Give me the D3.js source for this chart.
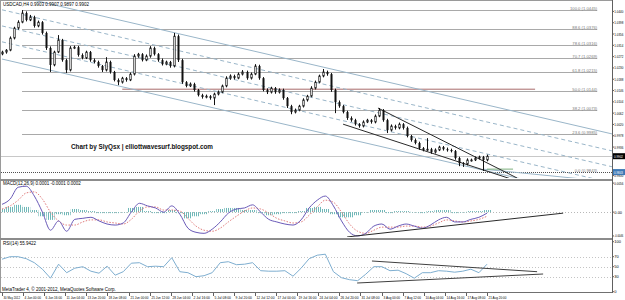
<!DOCTYPE html>
<html lang="en">
<head>
<meta charset="UTF-8">
<title>USDCAD H4</title>
<script src="https://d3js.org/d3.v7.min.js"></script>
<style>
  body { margin: 0; background: #fff; }
  svg { display: block; font-family: "Liberation Sans", Arial, sans-serif; }
</style>
</head>
<body>
<script>
// price candles (each drawn candle stands for ~3 H4 bars), open = previous close
const firstOpen = 1.0282;
const closes = [
  1.0289, 1.0296, 1.0341, 1.0378, 1.0400, 1.0434, 1.0408, 1.0419, 1.0386, 1.0400,
  1.0360, 1.0304, 1.0241, 1.0289, 1.0334, 1.0259, 1.0222, 1.0304, 1.0307, 1.0278,
  1.0267, 1.0289, 1.0259, 1.0252, 1.0237, 1.0222, 1.0252, 1.0215, 1.0185, 1.0177,
  1.0192, 1.0185, 1.0207, 1.0274, 1.0281, 1.0259, 1.0274, 1.0304, 1.0281, 1.0259,
  1.0244, 1.0252, 1.0237, 1.0348, 1.0259, 1.0177, 1.0163, 1.0170, 1.0148, 1.0129,
  1.0122, 1.0125, 1.0118, 1.0133, 1.0140, 1.0163, 1.0192, 1.0200, 1.0192, 1.0207,
  1.0215, 1.0192, 1.0207, 1.0237, 1.0192, 1.0148, 1.0140, 1.0155, 1.0140, 1.0148,
  1.0118, 1.0088, 1.0066, 1.0073, 1.0088, 1.0111, 1.0125, 1.0155, 1.0177, 1.0200,
  1.0215, 1.0207, 1.0148, 1.0103, 1.0088, 1.0066, 1.0044, 1.0036, 1.0021, 1.0014,
  1.0029, 1.0036, 1.0029, 1.0051, 1.0073, 1.0036, 0.9999, 1.0014, 1.0007, 1.0021,
  1.0007, 0.9977, 0.9962, 0.9951, 0.9932, 0.9925, 0.9928, 0.9917, 0.9925, 0.9936,
  0.9928, 0.9925, 0.9921, 0.9895, 0.9876, 0.9873, 0.9888, 0.9888, 0.9895, 0.9899,
  0.9888, 0.9902
];
// wicks in pips above / below the body
const wickUp = [
  5, 4, 6, 5, 7, 11, 6, 8, 5, 6,  4, 5, 6, 5, 18, 4, 5, 7, 6, 5,
  6, 5, 4, 6, 5, 4, 18, 5, 4, 6,  5, 4, 6, 7, 5, 4, 6, 7, 5, 4,
  6, 5, 4, 12, 6, 5, 4, 6, 5, 4,  5, 6, 4, 5, 6, 5, 7, 6, 5, 6,
  7, 5, 6, 7, 5, 4, 6, 5, 4, 6,   5, 4, 5, 6, 5, 6, 5, 7, 6, 5,
  11, 5, 4, 5, 6, 4, 5, 6, 5, 4,  6, 5, 4, 6, 8, 4, 5, 6, 5, 6,
  4, 5, 4, 6, 5, 4, 41, 5, 6, 5,  4, 6, 5, 4, 5, 4, 6, 5, 6, 5,
  4, 6
];
const wickDn = [
  5, 6, 4, 5, 6, 4, 5, 4, 6, 5,   6, 7, 26, 5, 4, 6, 11, 5, 4, 6,
  5, 4, 6, 5, 6, 7, 5, 6, 5, 11,  5, 6, 4, 5, 6, 5, 4, 6, 5, 6,
  5, 4, 6, 5, 7, 6, 5, 4, 6, 5,   6, 5, 6, 26, 5, 4, 5, 6, 5, 4,
  5, 6, 5, 4, 6, 5, 7, 5, 6, 5,   6, 7, 8, 5, 4, 5, 6, 4, 5, 4,
  5, 6, 7, 41, 6, 5, 7, 6, 5, 6,  5, 4, 6, 5, 4, 6, 11, 5, 6, 5,
  6, 5, 6, 5, 6, 5, 4, 6, 5, 4,   5, 6, 5, 6, 11, 11, 5, 6, 4, 5,
  41, 5
];

// indicators, sampled every second candle
const macdMain = [
  0.0015, 0.0025, 0.0048, 0.0050, 0.0031, 0.0000, -0.0035, -0.0017, -0.0037, -0.0014,
  -0.0012, -0.0010, -0.0017, -0.0023, -0.0025, -0.0021, 0.0000, 0.0017, 0.0012, 0.0008,
  0.0000, 0.0012, -0.0004, -0.0031, -0.0039, -0.0041, -0.0033, -0.0019, -0.0002, 0.0006,
  0.0008, 0.0014, 0.0000, -0.0014, -0.0019, -0.0023, -0.0025, -0.0015, 0.0008, 0.0023,
  0.0031, 0.0012, -0.0017, -0.0039, -0.0046, -0.0041, -0.0027, -0.0023, -0.0033, -0.0027,
  -0.0023, -0.0027, -0.0031, -0.0025, -0.0015, -0.0010, -0.0019, -0.0019, -0.0014, -0.0010,
  -0.0002
];
const macdSignal = [
  0.0006, 0.0012, 0.0023, 0.0037, 0.0039, 0.0025, 0.0000, -0.0017, -0.0025, -0.0025,
  -0.0019, -0.0015, -0.0015, -0.0019, -0.0021, -0.0023, -0.0014, 0.0002, 0.0010, 0.0010,
  0.0004, 0.0004, 0.0002, -0.0012, -0.0027, -0.0035, -0.0037, -0.0031, -0.0019, -0.0008,
  0.0002, 0.0008, 0.0006, -0.0002, -0.0012, -0.0017, -0.0021, -0.0019, -0.0006, 0.0010,
  0.0023, 0.0019, 0.0000, -0.0023, -0.0037, -0.0041, -0.0035, -0.0029, -0.0029, -0.0029,
  -0.0027, -0.0027, -0.0029, -0.0027, -0.0021, -0.0015, -0.0017, -0.0019, -0.0017, -0.0014,
  -0.0008
];
const macdHist = [
  0.0006, 0.0010, 0.0014, 0.0010, 0.0004, -0.0008, -0.0015, -0.0004, -0.0006, 0.0006,
  0.0004, 0.0002, -0.0002, -0.0002, -0.0002, 0.0000, 0.0008, 0.0010, 0.0002, -0.0002,
  -0.0002, 0.0004, -0.0002, -0.0012, -0.0008, -0.0004, 0.0002, 0.0006, 0.0008, 0.0008,
  0.0004, 0.0004, -0.0002, -0.0006, -0.0004, -0.0002, -0.0002, 0.0002, 0.0008, 0.0010,
  0.0006, -0.0004, -0.0010, -0.0010, -0.0006, 0.0000, 0.0004, 0.0004, -0.0002, 0.0002,
  0.0002, 0.0000, -0.0002, 0.0002, 0.0004, 0.0004, -0.0002, 0.0000, 0.0002, 0.0002,
  0.0004
];
const rsi = [
  65, 70, 70, 66, 58, 45, 27, 55, 38, 47,
  50, 41, 37, 51, 33, 40, 57, 58, 50, 51,
  50, 68, 40, 38, 30, 32, 38, 58, 60, 54,
  55, 58, 42, 41, 41, 42, 31, 47, 66, 73,
  75, 40, 28, 24, 22, 35, 50, 50, 42, 43,
  36, 27, 38, 38, 42, 41, 39, 41, 45, 38,
  55
];

// time axis: one label every 16 H4 bars
const h4Bars = 368;
const dateLabels = [
  "30 May 2012", "4 Jun 00:00", "6 Jun 16:00", "11 Jun 04:00", "13 Jun 20:00", "18 Jun 08:00",
  "21 Jun 00:00", "25 Jun 12:00", "28 Jun 04:00", "2 Jul 16:00", "5 Jul 08:00", "9 Jul 20:00",
  "12 Jul 12:00", "17 Jul 00:00", "19 Jul 16:00", "24 Jul 04:00", "26 Jul 20:00", "31 Jul 08:00",
  "3 Aug 00:00", "7 Aug 12:00", "10 Aug 04:00", "14 Aug 16:00", "17 Aug 08:00", "21 Aug 20:00"
];
const priceTicks = [1.0440, 1.0398, 1.0356, 1.0314, 1.0272, 1.0230, 1.0188, 1.0146, 1.0104,
  1.0062, 1.0020, 0.9978, 0.9936, 0.9830];
const macdTicks = [0.0056, 0, -0.0046];
const rsiTicks = [100, 70, 50, 30, 0];
const rsiLevels = [70, 50, 30];

// fibonacci retracement
const fibHigh = 1.0445, fibLow = 0.9843;
const fibLevels = [0, 23.6, 38.2, 50.0, 61.8, 70.7, 78.6, 88.6, 100.0];
const fibFrom = 5, fibTo = 148.5;

// drawn objects: [fromIdx, fromValue, toIdx, toValue]
const channel = [
  [0, 1.0509, 153, 0.9982],
  [0, 1.0446, 153, 0.9919],
  [0, 1.0386, 153, 0.9860],
  [0, 1.0327, 153, 0.9800],
  [0, 1.0263, 153, 0.9737]
];
const channelDash = [null, "4,3", "4,3", "4,3", null];
const wedge = [
  [93.8, 1.0081, 128.5, 0.9821],
  [85.1, 1.0021, 128.5, 0.9810]
];
const lowerRay = [120, 0.9854, 145, 0.9817];
const greenLine = [121, 0.9854, 127.5, 0.9854];
const redLine = [30, 1.0151, 133, 1.0151];
const bid = 0.9902;
const macdTrend = [86.1, -0.0048, 140, -0.0002];
const rsiTrends = [
  [92.3, 61.4, 133.5, 40],
  [88.6, 17.4, 135, 35.4]
];

const w = 625, h = 300;
const svg = d3.select("body").append("svg").attr("width", w).attr("height", h);
svg.append("rect").attr("width", w).attr("height", h).attr("fill", "#fff");

const x = d3.scaleLinear().domain([0, closes.length - 1]).range([2, 487]);
const xInd = d3.scaleLinear().domain([0, rsi.length - 1]).range([x(0), x(closes.length - 1)]);
const y = d3.scaleLinear().domain([0.9821, 1.0475]).range([178, 2]);
const yMacd = d3.scaleLinear().domain([-0.005, 0.0062]).range([238, 180]);
const yRsi = d3.scaleLinear().domain([0, 100]).range([291.7, 241.7]);
const candlePerH4 = (closes.length - 1) / h4Bars;

const defs = svg.append("defs");
defs.append("clipPath").attr("id", "cMain").append("rect").attr("x", 1).attr("y", 1).attr("width", 611).attr("height", 177);
defs.append("clipPath").attr("id", "cMacd").append("rect").attr("x", 1).attr("y", 181).attr("width", 611).attr("height", 56);
defs.append("clipPath").attr("id", "cRsi").append("rect").attr("x", 1).attr("y", 240).attr("width", 611).attr("height", 52);

const main = svg.append("g").attr("clip-path", "url(#cMain)");

// fib lines
fibLevels.forEach(l => {
  const p = fibLow + (fibHigh - fibLow) * l / 100;
  const yy = Math.round(y(p)) + 0.5;
  if (l === 0) {
    main.append("line").attr("x1", 1).attr("x2", 612).attr("y1", yy).attr("y2", yy)
      .attr("stroke", "#505050").attr("stroke-dasharray", "1,1");
  } else {
    main.append("line").attr("x1", x(fibFrom)).attr("x2", x(fibTo)).attr("y1", yy).attr("y2", yy)
      .attr("stroke", "#a9a9a9");
  }
  main.append("text").attr("x", x(fibTo)).attr("y", yy - 1).attr("text-anchor", "end")
    .attr("font-size", 4.2).attr("fill", "#7a7a7a")
    .text(l.toFixed(1) + " (" + p.toFixed(4) + ")");
});

// bid line
main.append("line").attr("x1", 1).attr("x2", 612).attr("y1", Math.round(y(bid)) + 0.5).attr("y2", Math.round(y(bid)) + 0.5)
  .attr("stroke", "#c8c8c8");

function seg(g, s, sy, color, dash) {
  return g.append("line")
    .attr("x1", x(s[0])).attr("y1", sy(s[1])).attr("x2", x(s[2])).attr("y2", sy(s[3]))
    .attr("stroke", color).attr("stroke-width", 1).attr("stroke-dasharray", dash || null);
}

seg(main, redLine, y, "#a86a6a");
channel.forEach((c, i) => seg(main, c, y, "#9ab6c9", channelDash[i]));
seg(main, lowerRay, y, "#9ab6c9");
seg(main, greenLine, y, "#7cb07c");
wedge.forEach(s => seg(main, s, y, "#2a2a2a"));

// candles
const bars = closes.map((c, i) => {
  const o = i === 0 ? firstOpen : closes[i - 1];
  return { i, o, c, hi: Math.max(o, c) + wickUp[i] / 10000, lo: Math.min(o, c) - wickDn[i] / 10000 };
});
const cg = main.append("g");
bars.forEach(b => {
  const xi = Math.round(x(b.i));
  cg.append("line").attr("x1", xi + 0.5).attr("x2", xi + 0.5)
    .attr("y1", y(b.hi)).attr("y2", y(b.lo)).attr("stroke", "#111");
  const top = y(Math.max(b.o, b.c)), bot = y(Math.min(b.o, b.c));
  if (b.c >= b.o) {
    cg.append("rect").attr("x", xi - 0.25).attr("y", top).attr("width", 1.5).attr("height", Math.max(1, bot - top))
      .attr("fill", "#fff").attr("stroke", "#111").attr("stroke-width", 0.7);
  } else {
    cg.append("rect").attr("x", xi - 0.5).attr("y", top).attr("width", 2).attr("height", Math.max(1, bot - top))
      .attr("fill", "#111");
  }
});

svg.append("text").attr("x", 3).attr("y", 6).attr("font-size", 4.5).attr("fill", "#000")
  .text("USDCAD,H4  0.9903 0.9907 0.9897 0.9902");
svg.append("text").attr("x", 71).attr("y", 148.5).attr("font-size", 8).attr("font-weight", "bold")
  .attr("textLength", 142).attr("lengthAdjust", "spacingAndGlyphs").attr("fill", "#111")
  .text("Chart by SlyQsx | elliottwavesurf.blogspot.com");

// MACD panel
const mg = svg.append("g").attr("clip-path", "url(#cMacd)");
defs.append("pattern").attr("id", "hatch").attr("patternUnits", "userSpaceOnUse")
  .attr("width", 2).attr("height", 4)
  .append("rect").attr("width", 1).attr("height", 4).attr("fill", "#6fb8b8");
mg.append("line").attr("x1", 1).attr("x2", 612).attr("y1", Math.round(yMacd(0)) + 0.5).attr("y2", Math.round(yMacd(0)) + 0.5)
  .attr("stroke", "#b8b8b8").attr("stroke-dasharray", "1,2");
macdHist.forEach((v, k) => {
  const y0 = yMacd(0), y1 = yMacd(v);
  mg.append("rect").attr("x", xInd(k) - 4).attr("width", 8)
    .attr("y", Math.min(y0, y1)).attr("height", Math.max(0.5, Math.abs(y1 - y0)))
    .attr("fill", "url(#hatch)");
});
mg.append("path").datum(macdSignal)
  .attr("d", d3.line().x((d, k) => xInd(k)).y(d => yMacd(d)).curve(d3.curveMonotoneX))
  .attr("fill", "none").attr("stroke", "#e07a7a").attr("stroke-width", 1).attr("stroke-dasharray", "1.5,1.5");
mg.append("path").datum(macdMain)
  .attr("d", d3.line().x((d, k) => xInd(k)).y(d => yMacd(d)).curve(d3.curveMonotoneX))
  .attr("fill", "none").attr("stroke", "#6a5ab8").attr("stroke-width", 1);
seg(mg, macdTrend, yMacd, "#2a2a2a");
svg.append("text").attr("x", 3).attr("y", 185).attr("font-size", 4.5).attr("fill", "#000")
  .text("MACD(12,26,9) 0.0001 -0.0001 0.0002");

// RSI panel
const rg = svg.append("g").attr("clip-path", "url(#cRsi)");
rsiLevels.forEach(l => {
  const yy = Math.round(yRsi(l)) + 0.5;
  rg.append("line").attr("x1", 1).attr("x2", 612).attr("y1", yy).attr("y2", yy)
    .attr("stroke", "#c4c4c4").attr("stroke-dasharray", "1,2");
});
rg.append("path").datum(rsi)
  .attr("d", d3.line().x((d, k) => xInd(k)).y(d => yRsi(d)))
  .attr("fill", "none").attr("stroke", "#7eaed0").attr("stroke-width", 1);
rsiTrends.forEach(s => seg(rg, s, yRsi, "#404040"));
svg.append("text").attr("x", 3).attr("y", 245).attr("font-size", 4.5).attr("fill", "#000")
  .text("RSI(14) 55.9422");
svg.append("text").attr("x", 2).attr("y", 291).attr("font-size", 4.5).attr("fill", "#000")
  .text("MetaTrader 4, \u00a9 2001-2012, MetaQuotes Software Corp.");

// frame and separators
svg.append("line").attr("x1", 0).attr("x2", 612).attr("y1", 0.5).attr("y2", 0.5).attr("stroke", "#9a9a9a");
svg.append("line").attr("x1", 0.5).attr("x2", 0.5).attr("y1", 0).attr("y2", 293).attr("stroke", "#9a9a9a");
[179, 238].forEach(s => svg.append("rect").attr("x", 0).attr("y", s).attr("width", 613).attr("height", 2).attr("fill", "#8c8c8c"));
svg.append("line").attr("x1", 0).attr("x2", 613).attr("y1", 292.5).attr("y2", 292.5).attr("stroke", "#707070");
svg.append("line").attr("x1", 612.5).attr("x2", 612.5).attr("y1", 0).attr("y2", 293).attr("stroke", "#606060");

// right axis labels (narrow font, the strip is only 12px wide)
function rightTick(yy, label) {
  svg.append("line").attr("x1", 612).attr("x2", 614).attr("y1", yy).attr("y2", yy).attr("stroke", "#606060");
  svg.append("text").attr("x", 614.3).attr("y", yy + 1.5).attr("font-size", 4)
    .attr("textLength", label.length > 4 ? 9 : null).attr("lengthAdjust", "spacingAndGlyphs")
    .attr("fill", "#000").text(label);
}
priceTicks.forEach(v => rightTick(y(v), v.toFixed(4)));
macdTicks.forEach(v => rightTick(yMacd(v), v === 0 ? "0.00" : v.toFixed(4)));
rsiTicks.forEach(v => rightTick(yRsi(v), String(v)));

function priceBox(v, bg) {
  const yy = y(v);
  svg.append("rect").attr("x", 613).attr("y", yy - 3).attr("width", 12).attr("height", 6).attr("fill", bg);
  svg.append("text").attr("x", 614).attr("y", yy + 1.5).attr("font-size", 4)
    .attr("textLength", 9).attr("lengthAdjust", "spacingAndGlyphs")
    .attr("fill", "#fff").text(v.toFixed(4));
}
priceBox(bid, "#000");
priceBox(fibLow, "#3d78b5");

// time axis
dateLabels.forEach((t, j) => {
  const xx = Math.round(x(j * 16 * candlePerH4)) + 0.5;
  svg.append("line").attr("x1", xx).attr("x2", xx).attr("y1", 293).attr("y2", 296).attr("stroke", "#606060");
  svg.append("text").attr("x", xx + 1).attr("y", 299).attr("font-size", 4)
    .attr("textLength", t.length * 1.5).attr("lengthAdjust", "spacingAndGlyphs")
    .attr("fill", "#000").text(t);
});
</script>
</body>
</html>
